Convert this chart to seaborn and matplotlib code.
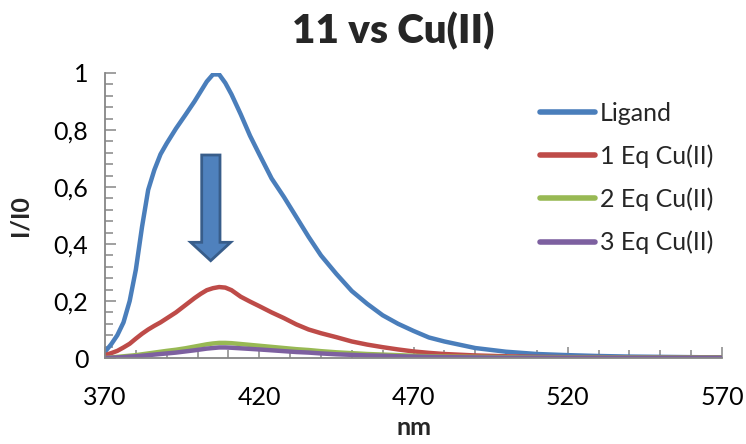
import numpy as np
import pandas as pd
import matplotlib
matplotlib.use("Agg")
import matplotlib.pyplot as plt
import seaborn as sns
from matplotlib.patches import Polygon
from matplotlib.ticker import MultipleLocator, FixedLocator, FuncFormatter

nm = [370, 372, 374, 376, 378, 380, 382, 384, 386, 388, 390, 393, 396, 399, 401,
      403, 405, 407, 409, 411, 414, 417, 420, 424, 428, 432, 436, 440, 445, 450,
      455, 460, 465, 470, 475, 480, 490, 500, 510, 520, 530, 540, 550, 560, 570]

ligand = [0.022, 0.048, 0.080, 0.125, 0.200, 0.310, 0.460, 0.590, 0.660, 0.715,
          0.753, 0.805, 0.852, 0.900, 0.935, 0.970, 0.995, 0.995, 0.965, 0.925,
          0.855, 0.780, 0.715, 0.630, 0.565, 0.495, 0.425, 0.360, 0.295, 0.235,
          0.190, 0.150, 0.120, 0.095, 0.072, 0.058, 0.035, 0.022, 0.014, 0.010,
          0.007, 0.005, 0.004, 0.003, 0.002]

eq1 = [0.010, 0.017, 0.025, 0.037, 0.050, 0.068, 0.085, 0.100, 0.113, 0.125,
       0.139, 0.160, 0.185, 0.210, 0.225, 0.238, 0.245, 0.249, 0.247, 0.238,
       0.215, 0.198, 0.182, 0.160, 0.140, 0.118, 0.100, 0.087, 0.073, 0.058,
       0.047, 0.038, 0.030, 0.023, 0.018, 0.014, 0.009, 0.006, 0.004, 0.003,
       0.003, 0.002, 0.002, 0.002, 0.002]

eq2 = [0.000, 0.002, 0.004, 0.006, 0.008, 0.010, 0.013, 0.016, 0.019, 0.022,
       0.025, 0.029, 0.034, 0.040, 0.044, 0.048, 0.051, 0.053, 0.053, 0.052,
       0.049, 0.046, 0.043, 0.039, 0.035, 0.031, 0.028, 0.024, 0.020, 0.017,
       0.014, 0.012, 0.010, 0.008, 0.006, 0.005, 0.004, 0.003, 0.002, 0.002,
       0.002, 0.002, 0.002, 0.002, 0.002]

eq3 = [0.000, 0.001, 0.002, 0.003, 0.005, 0.006, 0.008, 0.010, 0.012, 0.014,
       0.016, 0.019, 0.023, 0.027, 0.030, 0.033, 0.035, 0.037, 0.037, 0.036,
       0.034, 0.032, 0.030, 0.027, 0.024, 0.021, 0.019, 0.016, 0.013, 0.011,
       0.009, 0.008, 0.006, 0.005, 0.004, 0.003, 0.002, 0.001, 0.001, 0.001,
       0.001, 0.001, 0.001, 0.001, 0.001]

series_names = ["Ligand", "1 Eq Cu(II)", "2 Eq Cu(II)", "3 Eq Cu(II)"]
colors = ["#4A7EBB", "#BE4B48", "#98B954", "#7D60A0"]
x_ticks = [370, 420, 470, 520, 570]

frames = []
for name, vals in zip(series_names, [ligand, eq1, eq2, eq3]):
    frames.append(pd.DataFrame({"nm": nm, "I/I0": vals, "series": name}))
df = pd.concat(frames, ignore_index=True)

sns.set_theme(style="white")
plt.rcParams["font.family"] = ["Lato", "DejaVu Sans"]

fig = plt.figure(figsize=(7.46, 4.44), dpi=100)
ax = fig.add_axes([105/746, 1-358/444, (722-105)/746, (358-73)/444])

sns.lineplot(data=df, x="nm", y="I/I0", hue="series", hue_order=series_names,
             palette=colors, linewidth=3.2, ax=ax, sort=False)
for ln in ax.get_lines():
    ln.set_solid_capstyle("round")
    ln.set_solid_joinstyle("round")

ax.set_xlim(370, 570)
ax.set_ylim(0, 1)
ax.xaxis.set_major_locator(FixedLocator(x_ticks))
ax.xaxis.set_minor_locator(MultipleLocator(10))
ax.yaxis.set_major_locator(MultipleLocator(0.2))
ax.yaxis.set_minor_locator(MultipleLocator(0.04))
ax.yaxis.set_major_formatter(FuncFormatter(lambda v, p: ("%g" % round(v, 2)).replace(".", ",")))

for s in ["top", "right"]:
    ax.spines[s].set_visible(False)
for s in ["left", "bottom"]:
    ax.spines[s].set_color("#868686")
    ax.spines[s].set_linewidth(1.3)

ax.tick_params(which="both", direction="in", color="#868686", width=1.1,
               labelsize=18, labelcolor="black", left=True, bottom=True)
ax.tick_params(which="major", length=8)
ax.tick_params(which="minor", length=6)
ax.tick_params(axis="x", pad=20)
ax.tick_params(axis="y", pad=12)

ax.set_xlabel("nm", fontsize=18, fontweight="bold", labelpad=5)
ax.set_ylabel("I/I0", fontsize=18, fontweight="bold", labelpad=16)
fig.text(393/746, 1-31/444, "11 vs Cu(II)", ha="center", va="center",
         fontsize=29, fontweight="heavy")

leg = ax.legend(loc="upper left", bbox_to_anchor=(540/746, 1-102/444),
                bbox_transform=fig.transFigure, frameon=False, fontsize=18,
                handlelength=2.2, handletextpad=0.2, labelspacing=0.78,
                borderaxespad=0, borderpad=0)
for h in leg.get_lines():
    h.set_linewidth(4)
    h.set_solid_capstyle("round")

# downward arrow annotation (pixel positions)
pts = [(201.7, 155), (220, 155), (220, 242.3), (230.7, 242.3), (210.7, 260.7),
       (190.7, 242.3), (201.7, 242.3)]
poly = Polygon([(x/746, 1-y/444) for x, y in pts], closed=True,
               transform=fig.transFigure, facecolor="#4F81BD",
               edgecolor="#385D8A", linewidth=2, zorder=5)
fig.patches.append(poly)

fig.savefig("out.png", dpi=100)
